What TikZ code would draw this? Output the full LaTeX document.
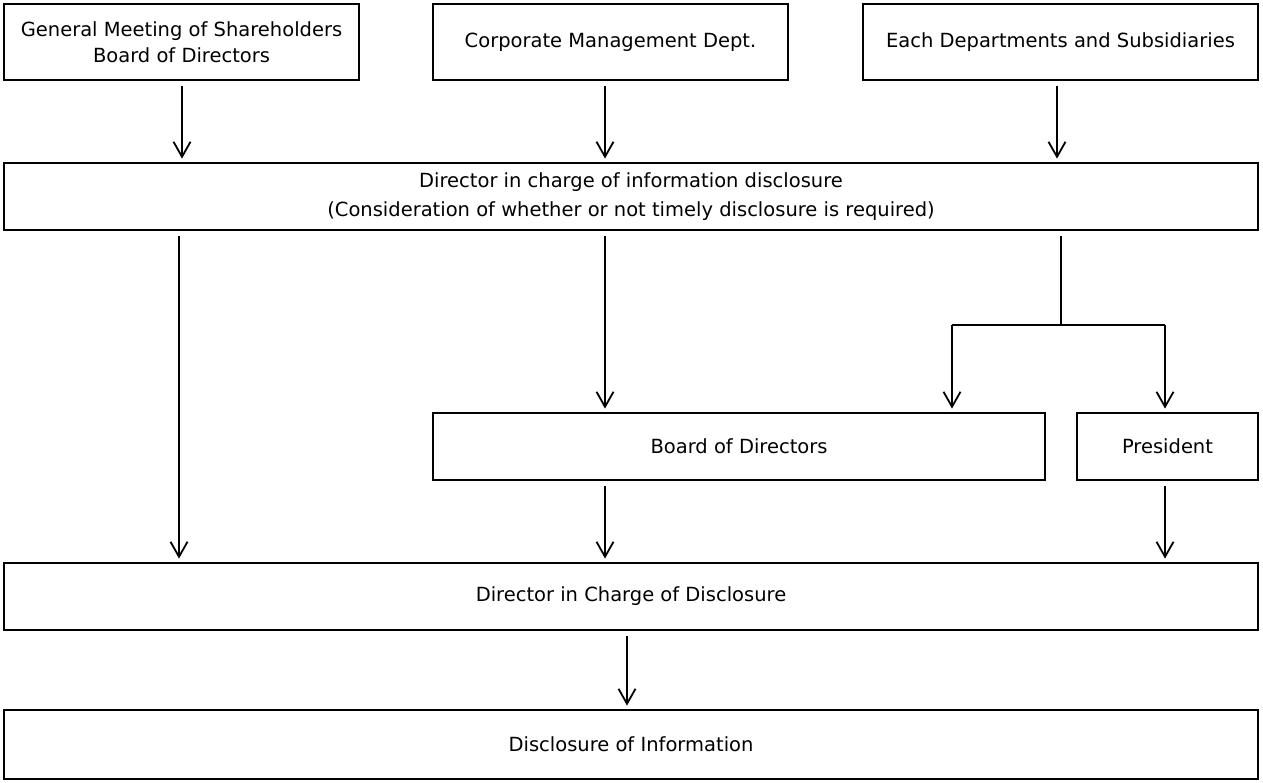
\documentclass[tikz,border=0pt]{standalone}
\usepackage{fontspec}
\setmainfont{DejaVu Sans}
\usetikzlibrary{arrows.meta}
\usetikzlibrary{positioning}

\tikzset{
  box/.style={draw, line width=2.8pt, inner sep=0pt, align=center,
    minimum height=67pt, font=\fontsize{19.5}{26}\selectfont},
  arr/.style={line width=1.8pt, shorten <=5pt, shorten >=3pt,
    -{Straight Barb[length=15pt,width=17pt,line width=1.8pt]}},
  link/.style={line width=1.8pt}
}

\begin{document}
\begin{tikzpicture}[x=1pt,y=-1pt]
\useasboundingbox (0,0) rectangle (1263,782);
% top row
\node[box, minimum width=355pt, minimum height=76pt](gm) at (181.5,42) {General Meeting of Shareholders\\Board of Directors};
\node[box, minimum width=355pt, minimum height=76pt](cm) at (610.5,42) {Corporate Management Dept.};
\node[box, minimum width=395pt, minimum height=76pt](ed) at (1060.5,42) {Each Departments and Subsidiaries};
\node[box, minimum width=1254pt, font=\fontsize{19.5}{29}\selectfont](dinfo) at (631,196.5) {Director in charge of information disclosure\\(Consideration of whether or not timely disclosure is required)};
\node[box, minimum width=612pt](bod) at (739,446.5) {Board of Directors};
\node[box, minimum width=181pt](pres) at (1167.5,446.5) {President};
\node[box, minimum width=1254pt](dcd) at (631,596.5) {Director in Charge of Disclosure};
\node[box, minimum width=1254pt, minimum height=69pt](doi) at (631,744.5) {Disclosure of Information};

% columns of the connectors
\coordinate (ca) at (182,0);
\coordinate (cb) at (179,0);
\coordinate (cc) at (605,0);
\coordinate (cd) at (1057,0);
\coordinate (ce) at (1165,0);
\coordinate (cf) at (627,0);
\coordinate (split) at (1061,325);
\coordinate (sl) at (952,325);
\coordinate (sr) at (1165,325);

\draw[arr] (gm.south -| ca) -- (dinfo.north -| ca);
\draw[arr] (cm.south -| cc) -- (dinfo.north -| cc);
\draw[arr] (ed.south -| cd) -- (dinfo.north -| cd);
\draw[arr] (dinfo.south -| cb) -- (dcd.north -| cb);
\draw[arr] (dinfo.south -| cc) -- (bod.north -| cc);
\draw[link, shorten <=5pt] (dinfo.south -| split) -- (split);
\draw[link] (sl) -- (sr);
\draw[arr, shorten <=0pt] (sl) -- (bod.north -| sl);
\draw[arr, shorten <=0pt] (sr) -- (pres.north -| sr);
\draw[arr] (bod.south -| cc) -- (dcd.north -| cc);
\draw[arr] (pres.south -| ce) -- (dcd.north -| ce);
\draw[arr] (dcd.south -| cf) -- (doi.north -| cf);
\end{tikzpicture}
\end{document}
